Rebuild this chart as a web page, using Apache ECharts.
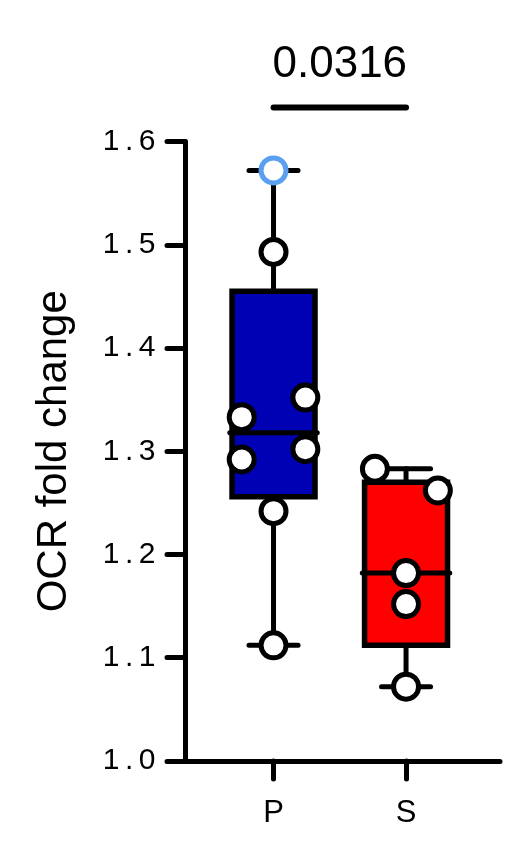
<!DOCTYPE html>
<html>
<head>
<meta charset="utf-8">
<script src="https://cdn.jsdelivr.net/npm/echarts@6/dist/echarts.min.js"></script>
<style>
  html, body { margin: 0; padding: 0; background: #fff; }
  #chart { width: 518px; height: 867px; }
</style>
</head>
<body>
<div id="chart"></div>
<script>
// ---- data ----
const categories = ['P', 'S'];
const categoryPos = [1, 2];
const boxColors = ['#0000b4', '#ff0000'];

// individual points
const pValues = [1.572, 1.493, 1.352, 1.333, 1.302, 1.292, 1.242, 1.112];
const pJitter = [0, 0, 0.24, -0.24, 0.24, -0.24, 0, 0];
const sValues = [1.283, 1.262, 1.182, 1.152, 1.072];
const sJitter = [-0.235, 0.24, 0, 0, 0];
const pHighlight = [0]; // index of point drawn with light-blue outline

// box statistics: [min, Q1, median, Q3, max]
const pBox = [1.112, 1.256, 1.318, 1.455, 1.572];
const sBox = [1.072, 1.112, 1.182, 1.270, 1.283];

// y axis ticks
const yMin = 1.0, yMax = 1.6, yStep = 0.1;

// significance annotation
const sigPair = [1, 2];
const sigLevel = 1.633;
const sigLabel = '0.0316';

const FONT = '"Liberation Sans", Arial, Helvetica, sans-serif';
const TICK_FONT = 'Arimo, "Liberation Sans", Arial, sans-serif';

// widen the letter spacing of the y tick labels, as in the reference
(function () {
  const proto = CanvasRenderingContext2D.prototype;
  const orig = proto.fillText;
  proto.fillText = function (t, x, y) {
    if ('letterSpacing' in this) {
      const f = this.font;
      this.letterSpacing = /Arimo/.test(f) ? '5.5px' : '0px';
      this.font = f;
    }
    return orig.call(this, t, x, y);
  };
})();

const chart = echarts.init(document.getElementById('chart'), null, { renderer: 'canvas' });

const boxData = [
  [categoryPos[0]].concat(pBox).concat([0]),
  [categoryPos[1]].concat(sBox).concat([1])
];

function pointData(values, jitter, pos, highlight) {
  return values.map((v, i) => {
    const hl = highlight && highlight.indexOf(i) >= 0;
    return {
      value: [pos + jitter[i], v],
      itemStyle: { borderColor: hl ? '#5ba0f0' : '#000000' }
    };
  });
}

const option = {
  animation: false,
  backgroundColor: '#ffffff',
  grid: { left: 185, right: 18, top: 141.5, bottom: 106 },
  xAxis: {
    type: 'value',
    min: 0.332,
    max: 2.709,
    axisLine: { show: true, onZero: false, lineStyle: { color: '#000', width: 5, cap: 'round' } },
    axisTick: { show: true, customValues: categoryPos, length: 18, lineStyle: { color: '#000', width: 5, cap: 'round' } },
    axisLabel: {
      show: true, customValues: categoryPos,
      formatter: v => categories[Math.round(v) - 1],
      fontSize: 31, color: '#000', margin: 37, fontFamily: FONT
    },
    splitLine: { show: false }
  },
  yAxis: {
    type: 'value',
    min: yMin, max: yMax, interval: yStep,
    axisLine: { show: true, lineStyle: { color: '#000', width: 5, cap: 'round' } },
    axisTick: { show: true, length: 18, lineStyle: { color: '#000', width: 5, cap: 'round' } },
    axisLabel: { formatter: v => v.toFixed(1), fontSize: 30, color: '#000', margin: 24, fontFamily: TICK_FONT },
    splitLine: { show: false },
    name: 'OCR fold change',
    nameLocation: 'middle',
    nameGap: 110,
    nameTextStyle: { fontSize: 42, color: '#000', fontFamily: FONT }
  },
  series: [
    {
      type: 'custom',
      clip: false,
      z: 2,
      data: boxData,
      renderItem: function (params, api) {
        const x = api.value(0);
        const mn = api.value(1), q1 = api.value(2), md = api.value(3), q3 = api.value(4), mx = api.value(5);
        const ci = api.value(6);
        const c = (a, b) => api.coord([a, b]);
        const boxHalf = 0.313, capHalf = 0.185, medHalf = 0.33;
        const lineSt = { stroke: '#000', lineWidth: 5, lineCap: 'round' };
        const tl = c(x - boxHalf, q3), br = c(x + boxHalf, q1);
        return {
          type: 'group',
          children: [
            { type: 'line', shape: { x1: c(x, mx)[0], y1: c(x, mx)[1], x2: c(x, q3)[0], y2: c(x, q3)[1] }, style: lineSt },
            { type: 'line', shape: { x1: c(x, q1)[0], y1: c(x, q1)[1], x2: c(x, mn)[0], y2: c(x, mn)[1] }, style: lineSt },
            { type: 'line', shape: { x1: c(x - capHalf, mx)[0], y1: c(x, mx)[1], x2: c(x + capHalf, mx)[0], y2: c(x, mx)[1] }, style: lineSt },
            { type: 'line', shape: { x1: c(x - capHalf, mn)[0], y1: c(x, mn)[1], x2: c(x + capHalf, mn)[0], y2: c(x, mn)[1] }, style: lineSt },
            { type: 'rect', shape: { x: tl[0], y: tl[1], width: br[0] - tl[0], height: br[1] - tl[1] },
              style: { fill: boxColors[ci], stroke: '#000', lineWidth: 5.5, lineJoin: 'miter' } },
            { type: 'line', shape: { x1: c(x - medHalf, md)[0], y1: c(x, md)[1], x2: c(x + medHalf, md)[0], y2: c(x, md)[1] }, style: lineSt }
          ]
        };
      }
    },
    {
      type: 'scatter',
      z: 5,
      symbol: 'circle',
      symbolSize: 25,
      itemStyle: { color: '#ffffff', borderColor: '#000', borderWidth: 5, opacity: 1 },
      data: pointData(pValues, pJitter, categoryPos[0], pHighlight)
    },
    {
      type: 'scatter',
      z: 5,
      symbol: 'circle',
      symbolSize: 25,
      itemStyle: { color: '#ffffff', borderColor: '#000', borderWidth: 5, opacity: 1 },
      data: pointData(sValues, sJitter, categoryPos[1], null)
    },
    {
      type: 'custom',
      clip: false,
      z: 3,
      data: [[sigPair[0], sigPair[1], sigLevel]],
      renderItem: function (params, api) {
        const a = api.coord([api.value(0), api.value(2)]);
        const b = api.coord([api.value(1), api.value(2)]);
        return {
          type: 'group',
          children: [
            { type: 'line', shape: { x1: a[0], y1: a[1], x2: b[0], y2: b[1] },
              style: { stroke: '#000', lineWidth: 6, lineCap: 'round' } },
            { type: 'text', x: (a[0] + b[0]) / 2, y: a[1] - 43,
              style: { text: sigLabel, fill: '#000', font: '44px ' + FONT, textAlign: 'center', textVerticalAlign: 'middle' } }
          ]
        };
      }
    }
  ]
};

chart.setOption(option);
</script>
</body>
</html>
